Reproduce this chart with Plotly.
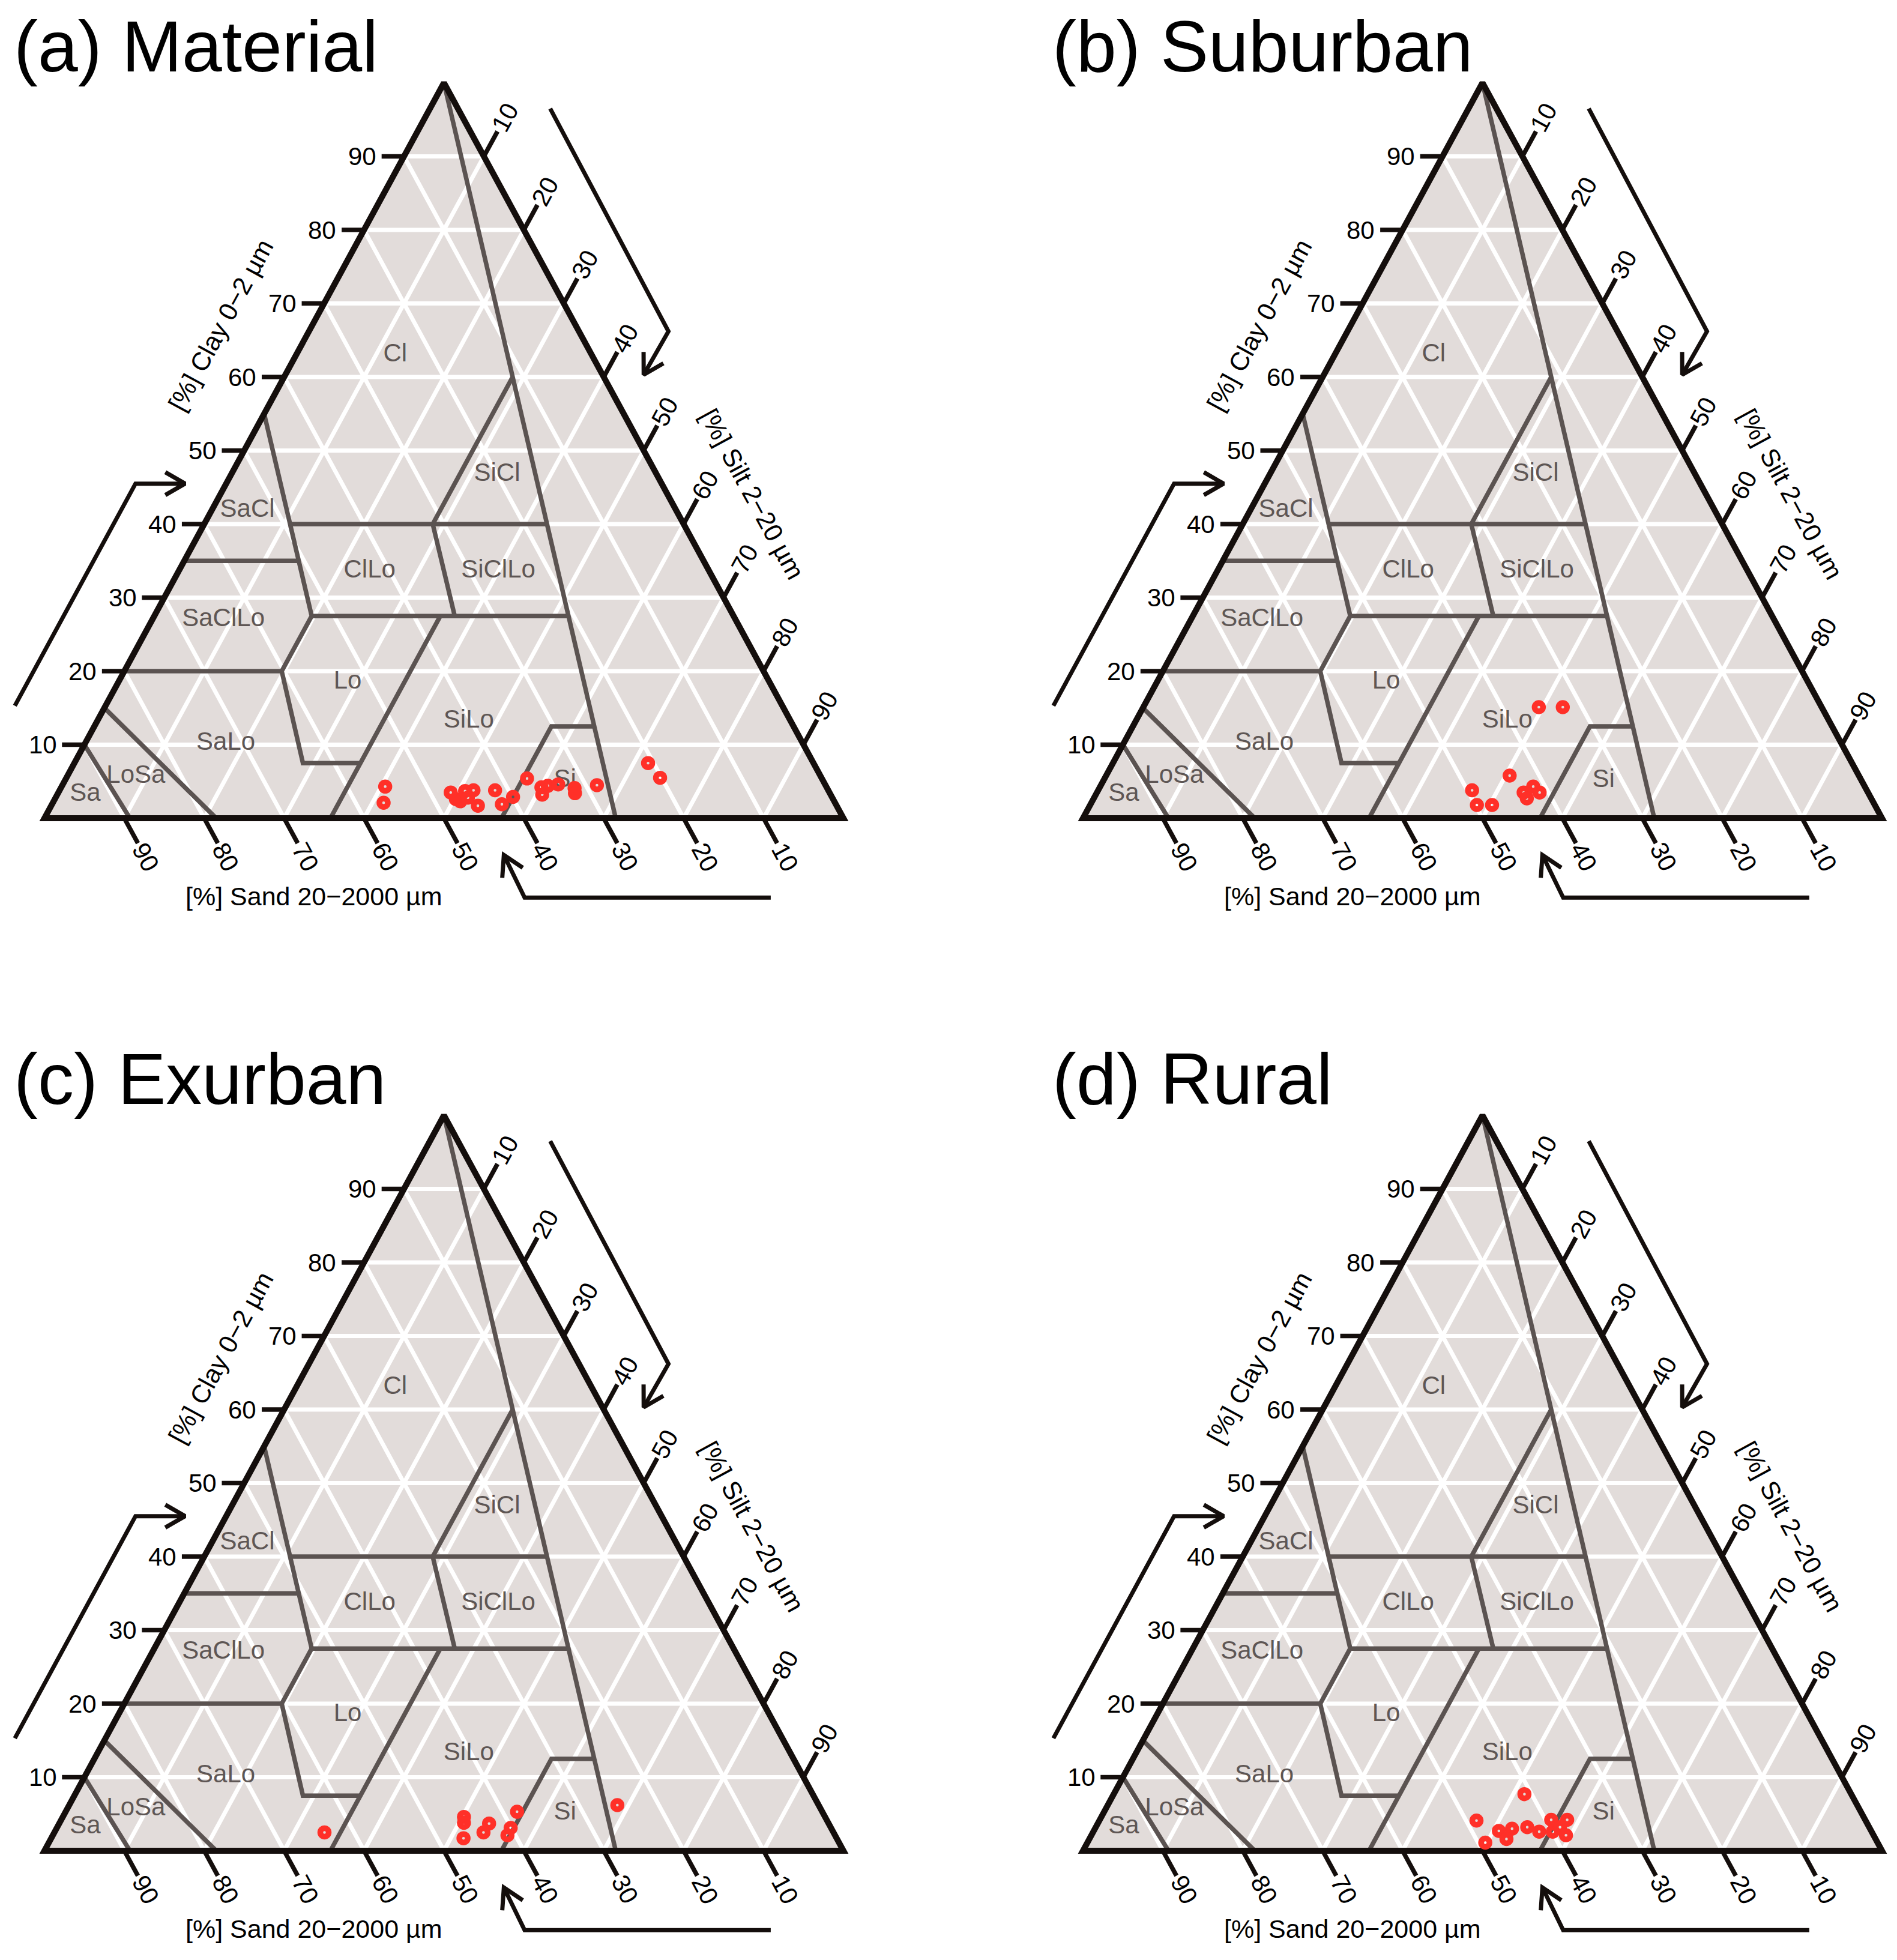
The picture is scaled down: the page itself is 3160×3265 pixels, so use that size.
import math
import plotly.graph_objects as go

panel_titles = ["(a) Material", "(b) Suburban", "(c) Exurban", "(d) Rural"]

# measured samples: % clay (0-2 um) and % silt (2-20 um); sand is the rest
material_clay = [4.3, 2.1, 3.5, 2.6, 2.3, 3.7, 3.8, 2.8, 1.7, 3.8, 1.9, 2.9, 5.4,
                 4.2, 4.4, 3.2, 4.6, 4.1, 3.4, 4.5, 7.5, 5.5]
material_silt = [40.5, 41.4, 49.1, 50.2, 50.9, 50.8, 51.8, 51.6, 53.4, 54.5, 56.3, 57.2, 57.7,
                 60.1, 60.8, 60.7, 62.0, 64.3, 64.7, 66.9, 71.8, 74.3]
suburban_clay = [15.1, 15.1, 5.8, 3.8, 1.8, 1.8, 3.5, 2.7, 4.3, 3.5]
suburban_silt = [49.5, 52.5, 50.5, 46.8, 48.4, 50.3, 53.4, 54.2, 54.2, 55.4]
exurban_clay = [2.5, 4.6, 3.8, 1.7, 3.7, 2.5, 5.3, 3.1, 2.1, 6.2]
exurban_silt = [33.8, 50.2, 50.6, 51.6, 53.8, 53.7, 56.5, 56.8, 56.9, 68.6]
rural_clay = [7.7, 4.1, 1.1, 2.7, 3.0, 1.6, 3.2, 2.6, 4.2, 2.6, 3.2, 4.2, 2.1]
rural_silt = [51.4, 47.2, 49.8, 50.7, 52.2, 52.2, 54.0, 55.8, 56.5, 57.5, 58.1, 58.5, 59.4]

samples_clay = [material_clay, suburban_clay, exurban_clay, rural_clay]
samples_silt = [material_silt, suburban_silt, exurban_silt, rural_silt]

# texture class borders (clay / silt vertices)
border_clay = [[100, 0], [55, 40, 35, 27.5, 20, 7.5, 7.5], [40, 40], [40, 60], [35, 35],
               [40, 27.5], [27.5, 27.5], [20, 20], [0, 27.5], [0, 12.5, 12.5], [15, 0], [10, 0]]
border_silt = [[0, 71.5], [0, 10.7, 14.3, 19.7, 19.7, 28.6, 35.8], [10.7, 42.9], [28.6, 28.6], [0, 14.3],
               [28.6, 37.6], [19.7, 51.9], [0, 19.7], [35.8, 35.8], [57.2, 57.2, 62.6], [0, 21.5], [0, 10.7]]

class_names = ["Cl", "SiCl", "SaCl", "ClLo", "SiClLo", "SaClLo", "Lo", "SiLo", "SaLo", "LoSa", "Sa", "Si"]
class_clay = [63.0, 46.7, 41.8, 33.6, 33.6, 27.0, 18.5, 13.2, 10.2, 5.7, 3.2, 5.1]
class_silt = [12.4, 33.3, 4.5, 23.9, 40.0, 8.9, 28.7, 46.5, 17.6, 8.6, 3.5, 62.6]

tick_values = [10, 20, 30, 40, 50, 60, 70, 80, 90]

PAD = 8  # page body margin
W, H = 3160 - PAD, 3265 - PAD
SX, SY = 13.31, 12.25  # pixels per % unit
ORIGINS = [(74 - PAD, 1363 - PAD), (1804 - PAD, 1363 - PAD), (74 - PAD, 3083 - PAD), (1804 - PAD, 3083 - PAD)]
BOXES = [(0, 1576, 0, 1628), (1576, W, 0, 1628), (0, 1576, 1628, H), (1576, W, 1628, H)]

FONT = "Liberation Sans, Arial, sans-serif"
FILL = "#E2DCDA"
BORDER = "#5B5351"
INK = "#140E0C"
RED = "#FF3028"
CLAY_TICK = 2.8
SIDE_TICK = 3.4
LAB_OFF = 5.3
ANG = math.degrees(math.atan2(SY, SX / 2))


def tern(clay, silt):
    return silt + clay / 2, clay


def segs(paths_clay, paths_silt):
    xs, ys = [], []
    for pc, ps in zip(paths_clay, paths_silt):
        for c, s in zip(pc, ps):
            x, y = tern(c, s)
            xs.append(x)
            ys.append(y)
        xs.append(None)
        ys.append(None)
    return xs, ys


def head(tip, prev, length=38, spread=30):
    dx, dy = (tip[0] - prev[0]) * SX, (tip[1] - prev[1]) * SY
    n = math.hypot(dx, dy)
    dx, dy = -dx / n, -dy / n
    pts = []
    for sgn in (1, -1):
        a = math.radians(spread * sgn)
        rx = dx * math.cos(a) - dy * math.sin(a)
        ry = dx * math.sin(a) + dy * math.cos(a)
        pts.append((tip[0] + rx * length / SX, tip[1] + ry * length / SY))
    return [pts[0], tip, pts[1]]


arrows = [
    [(-3.7, 15.3), (11.4, 45.5), (17.6, 45.5)],
    [(63.3, 96.5), (78.1, 66.2), (75.0, 60.3)],
    [(90.9, -10.8), (60.1, -10.8), (57.5, -5.0)],
]

fig = go.Figure()
annotations = []
layout = {}

for i in range(4):
    sfx = "" if i == 0 else str(i + 1)
    xr, yr = "x" + sfx, "y" + sfx
    ox, oy = ORIGINS[i]
    L, R, T, B = BOXES[i]
    layout["xaxis" + sfx] = dict(domain=[L / W, R / W], range=[(L - ox) / SX, (R - ox) / SX],
                                 visible=False, fixedrange=True)
    layout["yaxis" + sfx] = dict(domain=[1 - B / H, 1 - T / H], range=[(oy - B) / SY, (oy - T) / SY],
                                 visible=False, fixedrange=True)

    # background
    fig.add_trace(go.Scatter(x=[0, 100, 50, 0], y=[0, 0, 100, 0], mode="lines", fill="toself",
                             fillcolor=FILL, line=dict(width=0), xaxis=xr, yaxis=yr, hoverinfo="skip"))
    # white grid
    gx, gy = [], []
    for v in tick_values:
        for (c0, s0), (c1, s1) in [((v, 0), (v, 100 - v)), ((0, v), (100 - v, v)), ((0, 100 - v), (100 - v, 0))]:
            x0, y0 = tern(c0, s0)
            x1, y1 = tern(c1, s1)
            gx += [x0, x1, None]
            gy += [y0, y1, None]
    fig.add_trace(go.Scatter(x=gx, y=gy, mode="lines", line=dict(color="white", width=7),
                             xaxis=xr, yaxis=yr, hoverinfo="skip"))
    # class borders
    bx, by = segs(border_clay, border_silt)
    fig.add_trace(go.Scatter(x=bx, y=by, mode="lines", line=dict(color=BORDER, width=7.5),
                             xaxis=xr, yaxis=yr, hoverinfo="skip"))
    # class labels
    lx, ly = zip(*[tern(c, s) for c, s in zip(class_clay, class_silt)])
    fig.add_trace(go.Scatter(x=lx, y=ly, mode="text", text=class_names,
                             textfont=dict(family=FONT, size=42, color="#5E5654"),
                             xaxis=xr, yaxis=yr, hoverinfo="skip"))
    # triangle outline
    fig.add_trace(go.Scatter(x=[0, 100, 50, 0, 100], y=[0, 0, 100, 0, 0], mode="lines",
                             line=dict(color=INK, width=10), xaxis=xr, yaxis=yr, hoverinfo="skip"))
    # ticks
    tx, ty = [], []
    for v in tick_values:
        # clay
        x0, y0 = tern(v, 0)
        tx += [x0, x0 - CLAY_TICK, None]
        ty += [y0, y0, None]
        annotations.append(dict(x=x0 - 3.3, y=y0, xref=xr, yref=yr, text=str(v), showarrow=False,
                                xanchor="right", yanchor="middle", font=dict(family=FONT, size=42, color="black")))
        # sand (value v at silt 100 - v)
        x0, y0 = tern(0, 100 - v)
        tx += [x0, x0 + SIDE_TICK / 2, None]
        ty += [y0, y0 - SIDE_TICK, None]
        annotations.append(dict(x=x0 + LAB_OFF / 2, y=y0 - LAB_OFF, xref=xr, yref=yr, text=str(v),
                                showarrow=False, textangle=ANG, font=dict(family=FONT, size=42, color="black")))
        # silt
        x0, y0 = tern(100 - v, v)
        tx += [x0, x0 + SIDE_TICK / 2, None]
        ty += [y0, y0 + SIDE_TICK, None]
        annotations.append(dict(x=x0 + LAB_OFF / 2, y=y0 + LAB_OFF, xref=xr, yref=yr, text=str(v),
                                showarrow=False, textangle=-ANG, font=dict(family=FONT, size=42, color="black")))
    fig.add_trace(go.Scatter(x=tx, y=ty, mode="lines", line=dict(color=INK, width=7.5),
                             xaxis=xr, yaxis=yr, hoverinfo="skip"))
    # direction arrows
    ax, ay = [], []
    for path in arrows:
        for p in path:
            ax.append(p[0])
            ay.append(p[1])
        ax.append(None)
        ay.append(None)
        for p in head(path[-1], path[-2]):
            ax.append(p[0])
            ay.append(p[1])
        ax.append(None)
        ay.append(None)
    fig.add_trace(go.Scatter(x=ax, y=ay, mode="lines", line=dict(color=INK, width=7),
                             xaxis=xr, yaxis=yr, hoverinfo="skip"))
    # samples
    px, py = zip(*[tern(c, s) for c, s in zip(samples_clay[i], samples_silt[i])])
    fig.add_trace(go.Scatter(x=px, y=py, mode="markers",
                             marker=dict(symbol="circle-open", size=14, color=RED, line=dict(width=9.5, color=RED)),
                             xaxis=xr, yaxis=yr, hoverinfo="skip"))

    # axis titles
    annotations.append(dict(x=22.1, y=67.1, xref=xr, yref=yr, text="[%] Clay 0\u22122 \u00b5m", showarrow=False,
                            textangle=-ANG, font=dict(family=FONT, size=43, color="black")))
    annotations.append(dict(x=88.6, y=44.1, xref=xr, yref=yr, text="[%] Silt 2\u221220 \u00b5m", showarrow=False,
                            textangle=ANG, font=dict(family=FONT, size=43, color="black")))
    annotations.append(dict(x=33.7, y=-10.6, xref=xr, yref=yr, text="[%] Sand 20\u22122000 \u00b5m",
                            showarrow=False, font=dict(family=FONT, size=43, color="black")))
    annotations.append(dict(x=-4.0, y=105.0, xref=xr, yref=yr, text=panel_titles[i], showarrow=False,
                            xanchor="left", yanchor="middle", font=dict(family=FONT, size=120, color="black")))

fig.update_layout(
    width=W, height=H,
    margin=dict(l=0, r=0, t=0, b=0),
    paper_bgcolor="white", plot_bgcolor="white",
    showlegend=False,
    annotations=annotations,
    **layout,
)

fig.write_html("out.html")
